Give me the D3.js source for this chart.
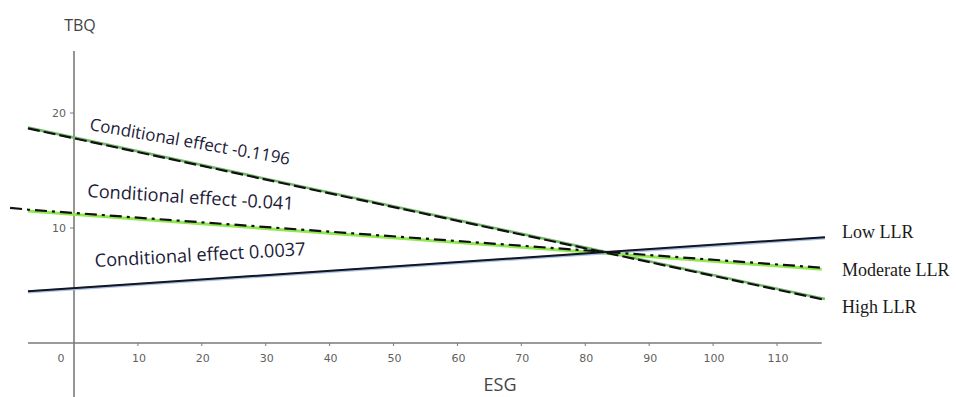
<!DOCTYPE html>
<html>
<head>
<meta charset="utf-8">
<script src="https://cdn.jsdelivr.net/npm/d3@7"></script>
<style>
  body { margin: 0; background: #fff; }
</style>
</head>
<body>
<div id="chart"></div>
<script>
// ESG points where the lines start and end
var esgLow = [-7.2, 117.5];
var esgHigh = [-7.2, 117.5];
var esgModerate = [-10, -7.2, 117];

// TBQ values
var lowLLR = [4.5, 9.2];
var highLLR = [18.66, 3.75];
var moderateLLR = [11.75, 11.6, 6.55];

var xTicks = [0, 10, 20, 30, 40, 50, 60, 70, 80, 90, 100, 110];
var yTicks = [10, 20];

var seriesNames = ["Low LLR", "Moderate LLR", "High LLR"];
var effectLabels = ["Conditional effect -0.1196", "Conditional effect -0.041", "Conditional effect 0.0037"];

var width = 956, height = 397;

var x = d3.scaleLinear().domain([0, 110]).range([74, 777]);
var y = d3.scaleLinear().domain([0, 20]).range([343, 113]);

var svg = d3.select("#chart")
    .append("svg")
    .attr("width", width)
    .attr("height", height)
    .style("background-color", "#fff");

// axes
svg.append("line")
    .attr("x1", x(-7.2)).attr("x2", x(117))
    .attr("y1", y(0)).attr("y2", y(0))
    .attr("stroke", "#7a7a7a")
    .attr("stroke-width", 1.6);

svg.append("line")
    .attr("x1", x(0)).attr("x2", x(0))
    .attr("y1", y(25.4)).attr("y2", height)
    .attr("stroke", "#7a7a7a")
    .attr("stroke-width", 1.6);

svg.selectAll(".xtick")
    .data(xTicks.filter(d => d !== 0))
    .enter()
    .append("line")
    .attr("class", "xtick")
    .attr("x1", d => x(d)).attr("x2", d => x(d))
    .attr("y1", y(0)).attr("y2", y(0) + 3)
    .attr("stroke", "#7a7a7a");

svg.selectAll(".xlabel")
    .data(xTicks)
    .enter()
    .append("text")
    .attr("class", "xlabel")
    .attr("x", d => d === 0 ? x(d) - 13 : x(d) + 1)
    .attr("y", y(0) + 19)
    .attr("text-anchor", "middle")
    .style("font-family", "DejaVu Sans")
    .style("font-size", "11px")
    .style("fill", "#5f5f5f")
    .text(d => d);

svg.selectAll(".ytick")
    .data(yTicks)
    .enter()
    .append("line")
    .attr("class", "ytick")
    .attr("x1", x(0) - 4).attr("x2", x(0))
    .attr("y1", d => y(d)).attr("y2", d => y(d))
    .attr("stroke", "#7a7a7a");

svg.selectAll(".ylabel")
    .data(yTicks)
    .enter()
    .append("text")
    .attr("class", "ylabel")
    .attr("x", x(0) - 8)
    .attr("y", d => y(d) + 4)
    .attr("text-anchor", "end")
    .style("font-family", "DejaVu Sans")
    .style("font-size", "11px")
    .style("fill", "#5f5f5f")
    .text(d => d);

svg.append("text")
    .attr("x", 80)
    .attr("y", 31)
    .attr("text-anchor", "middle")
    .style("font-family", "Open Sans")
    .style("font-size", "16px")
    .style("fill", "#444")
    .text("TBQ");

svg.append("text")
    .attr("x", 500)
    .attr("y", 391)
    .attr("text-anchor", "middle")
    .style("font-family", "Open Sans")
    .style("font-size", "18px")
    .style("fill", "#444")
    .text("ESG");

var line = d3.line()
    .x(d => x(d[0]))
    .y(d => y(d[1]));

var lowData = d3.zip(esgLow, lowLLR);
var highData = d3.zip(esgHigh, highLLR);
var modData = d3.zip(esgModerate, moderateLLR);

// green underlays, a bit offset like the original
svg.append("path")
    .datum(highData)
    .attr("d", line)
    .attr("transform", "translate(0,-0.8)")
    .attr("fill", "none")
    .attr("stroke", "#74b86c")
    .attr("stroke-width", 2.6);

svg.append("path")
    .datum(modData.slice(1))
    .attr("d", line)
    .attr("transform", "translate(0,1.5)")
    .attr("fill", "none")
    .attr("stroke", "#8fe84e")
    .attr("stroke-width", 3);

svg.append("path")
    .datum(lowData)
    .attr("d", line)
    .attr("transform", "translate(0,0.8)")
    .attr("fill", "none")
    .attr("stroke", "#a9c0e6")
    .attr("stroke-width", 3);

// black lines
svg.append("path")
    .datum(lowData)
    .attr("d", line)
    .attr("fill", "none")
    .attr("stroke", "#121620")
    .attr("stroke-width", 2);

svg.append("path")
    .datum(modData)
    .attr("d", line)
    .attr("fill", "none")
    .attr("stroke", "#111")
    .attr("stroke-width", 2.2)
    .attr("stroke-dasharray", "12,5,3,5");

svg.append("path")
    .datum(highData)
    .attr("d", line)
    .attr("fill", "none")
    .attr("stroke", "#111")
    .attr("stroke-width", 2.2)
    .attr("stroke-dasharray", "12,4");

// series names on the right
svg.selectAll(".sname")
    .data(seriesNames)
    .enter()
    .append("text")
    .attr("class", "sname")
    .attr("x", 842)
    .attr("y", (d, i) => [238, 276, 313][i])
    .style("font-family", "Liberation Serif")
    .style("font-size", "18px")
    .style("fill", "#1a1a1a")
    .text(d => d);

// conditional effect labels
var effectPos = [[89, 130, 9.9, 17], [87, 197, 3.6, 18.2], [95, 267, -3.2, 18.2]];
svg.selectAll(".effect")
    .data(effectLabels)
    .enter()
    .append("text")
    .attr("class", "effect")
    .attr("transform", (d, i) => "translate(" + effectPos[i][0] + "," + effectPos[i][1] + ") rotate(" + effectPos[i][2] + ")")
    .style("font-family", "Open Sans")
    .style("font-size", (d, i) => effectPos[i][3] + "px")
    .style("fill", "#1c1c38")
    .text(d => d);
</script>
</body>
</html>
